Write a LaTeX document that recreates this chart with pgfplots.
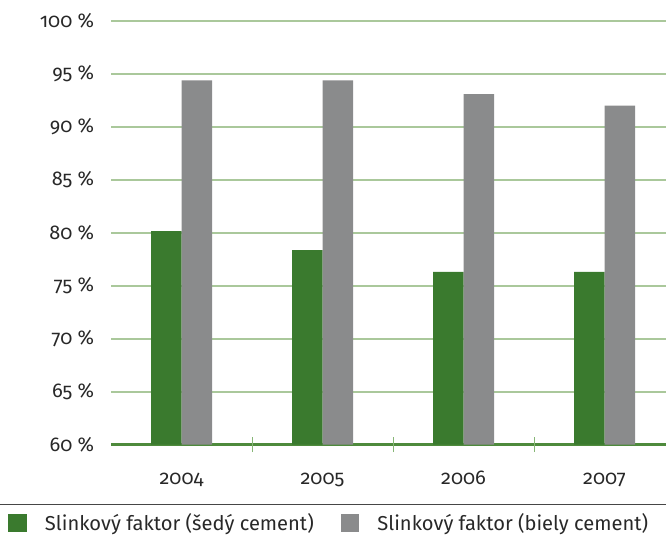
\documentclass[border=0pt]{standalone}
\usepackage{fontspec}
\setmainfont{Fira Sans}[Numbers=OldStyle]
\usepackage{pgfplots}
\pgfplotsset{compat=1.18}

\definecolor{barGreen}{RGB}{58,122,46}
\definecolor{barGray}{RGB}{138,139,140}
\definecolor{gridGreen}{RGB}{170,200,155}
\definecolor{axisGreen}{RGB}{78,138,60}
\definecolor{tickGreen}{RGB}{135,182,118}
\definecolor{textGray}{RGB}{40,40,40}
\definecolor{ruleGray}{RGB}{70,70,70}

\begin{document}
\begin{tikzpicture}
\useasboundingbox (0,0) rectangle (666bp,536bp);
\begin{axis}[
    at={(111bp,91.5bp)}, anchor=south west,
    scale only axis, width=555bp, height=423.5bp,
    xmin=-0.5, xmax=3.436,
    ymin=60, ymax=100,
    ybar=0pt, bar width=30.5bp,
    axis lines=left,
    axis line style={-},
    y axis line style={draw=none},
    x axis line style={draw=axisGreen, line width=2.7bp},
    ytick={60,65,...,100},
    yticklabels={60 \%,65 \%,70 \%,75 \%,80 \%,85 \%,90 \%,95 \%,100 \%},
    xtick={0,1,2,3},
    xticklabels={2004,2005,2006,2007},
    major tick length=0pt,
    xtick style={draw=tickGreen, line width=1bp},
    extra x ticks={0.5,1.5,2.5},
    extra x tick labels={},
    extra x tick style={major tick length=15bp, tick align=center, grid=none},
    ymajorgrids,
    grid style={draw=gridGreen, line width=2bp},
    tick label style={font=\fontsize{20}{20}\selectfont, text=textGray},
    yticklabel style={anchor=east, inner sep=0pt, xshift=-16.7bp},
    xticklabel style={anchor=base, inner sep=0pt, yshift=-39.5bp},
    legend columns=2,
    legend style={draw=none, fill=none, at={(-0.18559,-0.18536)}, anchor=west,
        inner sep=0pt, outer sep=0pt, font=\fontsize{20.2}{20.2}\selectfont,
        text=textGray, nodes={inner sep=0pt},
        /tikz/every odd column/.append style={column sep=18bp},
        /tikz/every even column/.append style={column sep=27.7bp}},
]
\addplot[fill=barGreen, draw=none,
    legend image code/.code={\fill[barGreen] (0bp,-9bp) rectangle (19bp,9bp);}]
    coordinates {(0,80.15) (1,78.35) (2,76.3) (3,76.3)};
\addlegendentry{Slinkový faktor (šedý cement)}
\addplot[fill=barGray, draw=none,
    legend image code/.code={\fill[barGray] (0bp,-9bp) rectangle (18bp,9bp);}]
    coordinates {(0,94.4) (1,94.4) (2,93.1) (3,92.0)};
\addlegendentry{Slinkový faktor (biely cement)}
\end{axis}
\draw[ruleGray, line width=1.2bp] (0,31.7bp) -- (666bp,31.7bp);
\end{tikzpicture}
\end{document}
